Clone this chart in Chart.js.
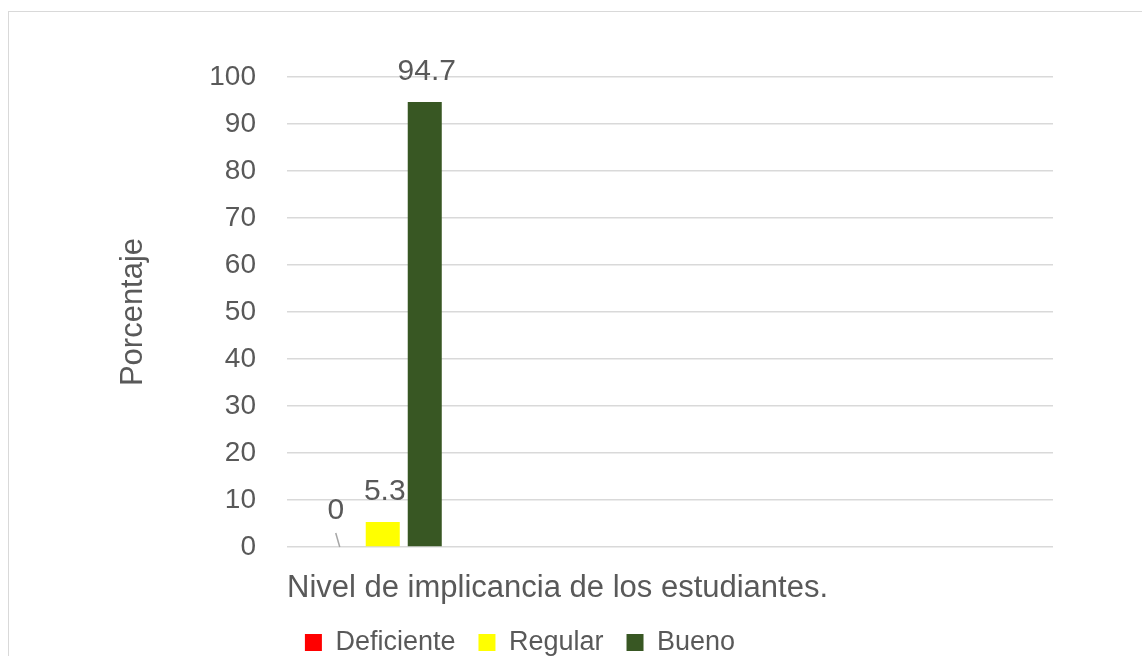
<!DOCTYPE html>
<html>
<head>
<meta charset="utf-8">
<script src="https://cdn.jsdelivr.net/npm/chart.js@4/dist/chart.umd.min.js"></script>
<style>
  html, body { margin: 0; padding: 0; background: #fff; overflow: hidden; }
  #frame { position: absolute; left: 8px; top: 11px; width: 2000px; height: 2000px; border: 1.5px solid #d9d9d9; }
  #wrap { position: absolute; left: 0; top: 0; width: 1142px; height: 656px; }
</style>
</head>
<body>
<div id="frame"></div>
<div id="wrap"><canvas id="c" width="1142" height="656"></canvas></div>
<script>
// ---- data ----
const categories = ['Nivel de implicancia de los estudiantes.'];
const emptySlots = ['', '', ''];            // unused category slots on the axis
const seriesNames = ['Deficiente', 'Regular', 'Bueno'];
const deficiente = [0];
const regular = [5.3];
const bueno = [94.7];
const seriesColors = ['#ff0000', '#ffff00', '#385723'];
const yMin = 0, yMax = 100, yStep = 10;

const FONT = "'Liberation Sans', Arial, sans-serif";
const TXT = '#595959';

const valueLabels = {
  id: 'valueLabels',
  afterDatasetsDraw(chart) {
    const ctx = chart.ctx;
    ctx.save();
    ctx.font = '30px ' + FONT;
    ctx.fillStyle = TXT;
    ctx.textAlign = 'center';
    ctx.textBaseline = 'alphabetic';
    chart.data.datasets.forEach((ds, i) => {
      const meta = chart.getDatasetMeta(i);
      meta.data.forEach((bar, j) => {
        const v = ds.data[j];
        if (v === undefined || v === null) return;
        if (v === 0) {
          ctx.fillText(String(v), bar.x - 5, bar.y - 28);
          ctx.strokeStyle = '#a6a6a6';
          ctx.lineWidth = 1.5;
          ctx.beginPath();
          ctx.moveTo(bar.x - 5, bar.y - 14);
          ctx.lineTo(bar.x - 1, bar.y);
          ctx.stroke();
        } else {
          ctx.fillText(String(v), bar.x + 2, bar.y - 22);
        }
      });
    });
    ctx.restore();
  }
};

const legendShift = {
  id: 'legendShift',
  afterLayout(chart) {
    const l = chart.legend;
    if (l) { l.left -= 64; l.right -= 64; }
  }
};

new Chart(document.getElementById('c'), {
  type: 'bar',
  data: {
    labels: categories.concat(emptySlots),
    datasets: seriesNames.map((n, i) => ({
      label: n,
      data: [deficiente, regular, bueno][i],
      backgroundColor: seriesColors[i],
      borderWidth: 0,
      categoryPercentage: 0.658,
      barPercentage: 0.81
    }))
  },
  options: {
    responsive: false,
    animation: false,
    events: [],
    layout: { padding: { left: 115, right: 89, top: 77, bottom: -10 } },
    plugins: {
      tooltip: { enabled: false },
      legend: {
        position: 'bottom',
        align: 'center',
        labels: {
          color: TXT,
          font: { family: FONT, size: 27 },
          boxWidth: 17,
          boxHeight: 17,
          padding: 23
        }
      }
    },
    scales: {
      x: {
        grid: { display: false },
        border: { display: false },
        ticks: { display: false },
        title: {
          display: true,
          text: categories[0],
          align: 'start',
          color: TXT,
          font: { family: FONT, size: 31, lineHeight: 1.1 },
          padding: 0
        },
        afterFit(s) { s.height = 59; }
      },
      y: {
        min: yMin,
        max: yMax,
        ticks: { stepSize: yStep, color: TXT, font: { family: FONT, size: 28 }, padding: 31 },
        grid: { color: '#d9d9d9', lineWidth: 1.5, drawTicks: false },
        border: { display: false },
        title: {
          display: true,
          text: 'Porcentaje',
          color: TXT,
          font: { family: FONT, size: 31 },
          padding: 0
        },
        afterFit(s) { s.width = 172; }
      }
    }
  },
  plugins: [valueLabels, legendShift]
});
</script>
</body>
</html>
